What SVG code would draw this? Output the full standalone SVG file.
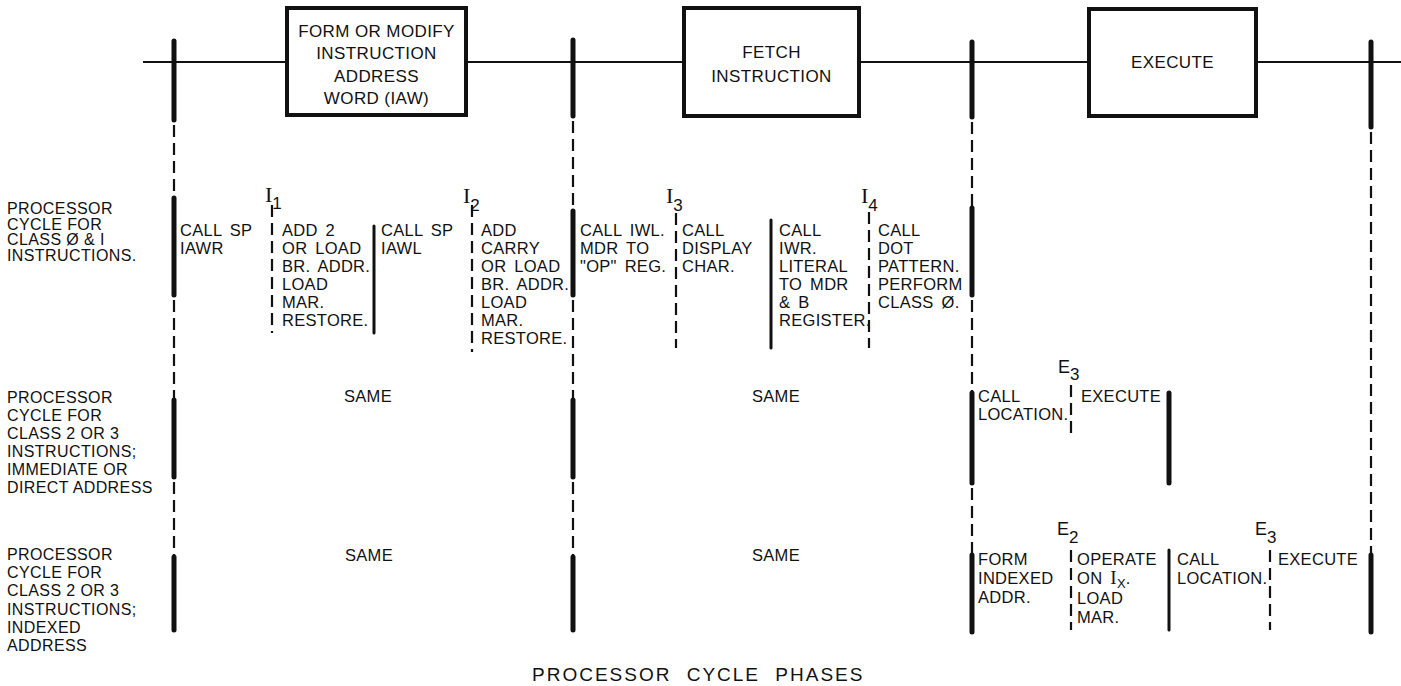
<svg xmlns="http://www.w3.org/2000/svg" width="1401" height="686" viewBox="0 0 1401 686">
<style>
  text { font-family: "Liberation Sans", Arial, sans-serif; font-size: 16.5px; fill: #111; }
  .box { fill: #fff; stroke: #111; stroke-width: 4; }
  .bt { font-size: 17px; text-anchor: middle; letter-spacing: 0.4px; }
  .lbl { font-size: 16px; letter-spacing: 0.4px; }
  .cell { font-size: 16.5px; letter-spacing: 0.3px; word-spacing: 3px; }
  .ser { font-family: "Liberation Serif", "Times New Roman", serif; font-size: 22px; }
  .sub { font-size: 17px; }
  .title { font-size: 19px; letter-spacing: 2px; word-spacing: 8px; }
  .thick { stroke: #111; stroke-width: 5; stroke-linecap: round; fill: none; }
  .dash { stroke: #111; stroke-width: 2.2; stroke-dasharray: 12 6; fill: none; }
  .solid { stroke: #111; stroke-width: 3; stroke-linecap: round; fill: none; }
  .hline { stroke: #111; stroke-width: 1.8; fill: none; }
</style>

<g id="connectors">
  <line class="hline" x1="143" y1="62" x2="1401" y2="62"/>
  <!-- x=174 -->
  <line class="thick" x1="174" y1="41" x2="174" y2="120"/>
  <line class="dash" x1="174" y1="125" x2="174" y2="196"/>
  <line class="thick" x1="174" y1="198" x2="174" y2="295"/>
  <line class="dash" x1="174" y1="300" x2="174" y2="398"/>
  <line class="thick" x1="174" y1="400" x2="174" y2="477"/>
  <line class="dash" x1="174" y1="482" x2="174" y2="555"/>
  <line class="thick" x1="174" y1="557" x2="174" y2="630"/>
  <!-- x=573 -->
  <line class="thick" x1="573" y1="40" x2="573" y2="116"/>
  <line class="dash" x1="573" y1="121" x2="573" y2="209"/>
  <line class="thick" x1="573" y1="211" x2="573" y2="295"/>
  <line class="dash" x1="573" y1="300" x2="573" y2="398"/>
  <line class="thick" x1="573" y1="400" x2="573" y2="477"/>
  <line class="dash" x1="573" y1="482" x2="573" y2="555"/>
  <line class="thick" x1="573" y1="557" x2="573" y2="630"/>
  <!-- x=972 -->
  <line class="thick" x1="972" y1="42" x2="972" y2="117"/>
  <line class="dash" x1="972" y1="122" x2="972" y2="206"/>
  <line class="thick" x1="972" y1="208" x2="972" y2="295"/>
  <line class="dash" x1="972" y1="300" x2="972" y2="391"/>
  <line class="thick" x1="972" y1="393" x2="972" y2="483"/>
  <line class="dash" x1="972" y1="488" x2="972" y2="553"/>
  <line class="thick" x1="972" y1="555" x2="972" y2="632"/>
  <!-- x=1371 -->
  <line class="thick" x1="1371" y1="42" x2="1371" y2="127"/>
  <line class="dash" x1="1371" y1="132" x2="1371" y2="553"/>
  <line class="thick" x1="1371" y1="555" x2="1371" y2="632"/>
  <!-- row 1 dividers -->
  <line class="dash" x1="272" y1="205" x2="272" y2="333"/>
  <line class="solid" x1="374" y1="226" x2="374" y2="333"/>
  <line class="dash" x1="472" y1="205" x2="472" y2="352"/>
  <line class="dash" x1="676" y1="213" x2="676" y2="348"/>
  <line class="solid" x1="771" y1="220" x2="771" y2="348"/>
  <line class="dash" x1="869" y1="212" x2="869" y2="348"/>
  <!-- row 2 dividers -->
  <line class="dash" x1="1071" y1="385" x2="1071" y2="435"/>
  <line class="thick" x1="1169" y1="393" x2="1169" y2="483"/>
  <!-- row 3 dividers -->
  <line class="dash" x1="1071" y1="550" x2="1071" y2="630"/>
  <line class="solid" x1="1169" y1="550" x2="1169" y2="630"/>
  <line class="dash" x1="1270" y1="550" x2="1270" y2="630"/>
</g>

<g id="box-iaw">
  <rect class="box" x="287" y="8" width="179" height="107"/>
  <text class="bt" x="376.5" y="37">FORM OR MODIFY</text>
  <text class="bt" x="376.5" y="59">INSTRUCTION</text>
  <text class="bt" x="376.5" y="82">ADDRESS</text>
  <text class="bt" x="376.5" y="104">WORD (IAW)</text>
</g>
<g id="box-fetch">
  <rect class="box" x="684" y="8" width="175" height="108"/>
  <text class="bt" x="771.5" y="58">FETCH</text>
  <text class="bt" x="771.5" y="82">INSTRUCTION</text>
</g>
<g id="box-execute">
  <rect class="box" x="1089" y="9" width="167" height="107"/>
  <text class="bt" x="1172.5" y="68">EXECUTE</text>
</g>

<g id="label-row1">
  <text class="lbl" x="7" y="214">PROCESSOR</text>
  <text class="lbl" x="7" y="230">CYCLE  FOR</text>
  <text class="lbl" x="7" y="245">CLASS Ø &amp; I</text>
  <text class="lbl" x="7" y="261">INSTRUCTIONS.</text>
</g>
<g id="label-row2">
  <text class="lbl" x="7" y="403">PROCESSOR</text>
  <text class="lbl" x="7" y="421">CYCLE  FOR</text>
  <text class="lbl" x="7" y="439">CLASS 2 OR 3</text>
  <text class="lbl" x="7" y="457">INSTRUCTIONS;</text>
  <text class="lbl" x="7" y="475">IMMEDIATE OR</text>
  <text class="lbl" x="7" y="493">DIRECT ADDRESS</text>
</g>
<g id="label-row3">
  <text class="lbl" x="7" y="560">PROCESSOR</text>
  <text class="lbl" x="7" y="578">CYCLE  FOR</text>
  <text class="lbl" x="7" y="596">CLASS 2 OR 3</text>
  <text class="lbl" x="7" y="615">INSTRUCTIONS;</text>
  <text class="lbl" x="7" y="633">INDEXED</text>
  <text class="lbl" x="7" y="651">ADDRESS</text>
</g>

<g id="phase-markers">
  <text x="265" y="202"><tspan class="ser">I</tspan><tspan class="sub" dy="7">1</tspan></text>
  <text x="463" y="203"><tspan class="ser">I</tspan><tspan class="sub" dy="8">2</tspan></text>
  <text x="666" y="203"><tspan class="ser">I</tspan><tspan class="sub" dy="8">3</tspan></text>
  <text x="861" y="203"><tspan class="ser">I</tspan><tspan class="sub" dy="8">4</tspan></text>
  <text x="1058" y="373" style="font-size:18px">E<tspan class="sub" dy="7">3</tspan></text>
  <text x="1057" y="535" style="font-size:18px">E<tspan class="sub" dy="8">2</tspan></text>
  <text x="1255" y="535" style="font-size:18px">E<tspan class="sub" dy="8">3</tspan></text>
</g>

<g id="row1-cells">
  <g id="r1c1"><text class="cell" x="180" y="236">CALL SP</text><text class="cell" x="180" y="254">IAWR</text></g>
  <g id="r1c2">
    <text class="cell" x="282" y="236">ADD 2</text><text class="cell" x="282" y="254">OR LOAD</text>
    <text class="cell" x="282" y="272">BR. ADDR.</text><text class="cell" x="282" y="290">LOAD</text>
    <text class="cell" x="282" y="308">MAR.</text><text class="cell" x="282" y="326">RESTORE.</text>
  </g>
  <g id="r1c3"><text class="cell" x="381" y="236">CALL SP</text><text class="cell" x="381" y="254">IAWL</text></g>
  <g id="r1c4">
    <text class="cell" x="481" y="236">ADD</text><text class="cell" x="481" y="254">CARRY</text>
    <text class="cell" x="481" y="272">OR LOAD</text><text class="cell" x="481" y="290">BR. ADDR.</text>
    <text class="cell" x="481" y="308">LOAD</text><text class="cell" x="481" y="326">MAR.</text>
    <text class="cell" x="481" y="344">RESTORE.</text>
  </g>
  <g id="r1c5"><text class="cell" x="580" y="236">CALL IWL.</text><text class="cell" x="580" y="254">MDR TO</text><text class="cell" x="580" y="272">"OP" REG.</text></g>
  <g id="r1c6"><text class="cell" x="682" y="236">CALL</text><text class="cell" x="682" y="254">DISPLAY</text><text class="cell" x="682" y="272">CHAR.</text></g>
  <g id="r1c7">
    <text class="cell" x="779" y="236">CALL</text><text class="cell" x="779" y="254">IWR.</text>
    <text class="cell" x="779" y="272">LITERAL</text><text class="cell" x="779" y="290">TO MDR</text>
    <text class="cell" x="779" y="308">&amp; B</text><text class="cell" x="779" y="326">REGISTER.</text>
  </g>
  <g id="r1c8">
    <text class="cell" x="878" y="236">CALL</text><text class="cell" x="878" y="254">DOT</text>
    <text class="cell" x="878" y="272">PATTERN.</text><text class="cell" x="878" y="290">PERFORM</text>
    <text class="cell" x="878" y="308">CLASS Ø.</text>
  </g>
</g>

<g id="row2-cells">
  <text class="cell" x="344" y="402">SAME</text>
  <text class="cell" x="752" y="402">SAME</text>
  <g id="r2c1"><text class="cell" x="978" y="402">CALL</text><text class="cell" x="978" y="420">LOCATION.</text></g>
  <g id="r2c2"><text class="cell" x="1081" y="402">EXECUTE</text></g>
</g>

<g id="row3-cells">
  <text class="cell" x="345" y="561">SAME</text>
  <text class="cell" x="752" y="561">SAME</text>
  <g id="r3c1"><text class="cell" x="978" y="565">FORM</text><text class="cell" x="978" y="584">INDEXED</text><text class="cell" x="978" y="603">ADDR.</text></g>
  <g id="r3c2"><text class="cell" x="1077" y="565">OPERATE</text><text class="cell" x="1077" y="584">ON <tspan class="ser" style="font-size:19px">I</tspan><tspan style="font-size:13px" dy="4">X</tspan><tspan dy="-4">.</tspan></text><text class="cell" x="1077" y="604">LOAD</text><text class="cell" x="1077" y="623">MAR.</text></g>
  <g id="r3c3"><text class="cell" x="1177" y="565">CALL</text><text class="cell" x="1177" y="584">LOCATION.</text></g>
  <g id="r3c4"><text class="cell" x="1278" y="565">EXECUTE</text></g>
</g>

<g id="caption">
  <text class="title" x="532" y="681">PROCESSOR CYCLE PHASES</text>
</g>
</svg>
